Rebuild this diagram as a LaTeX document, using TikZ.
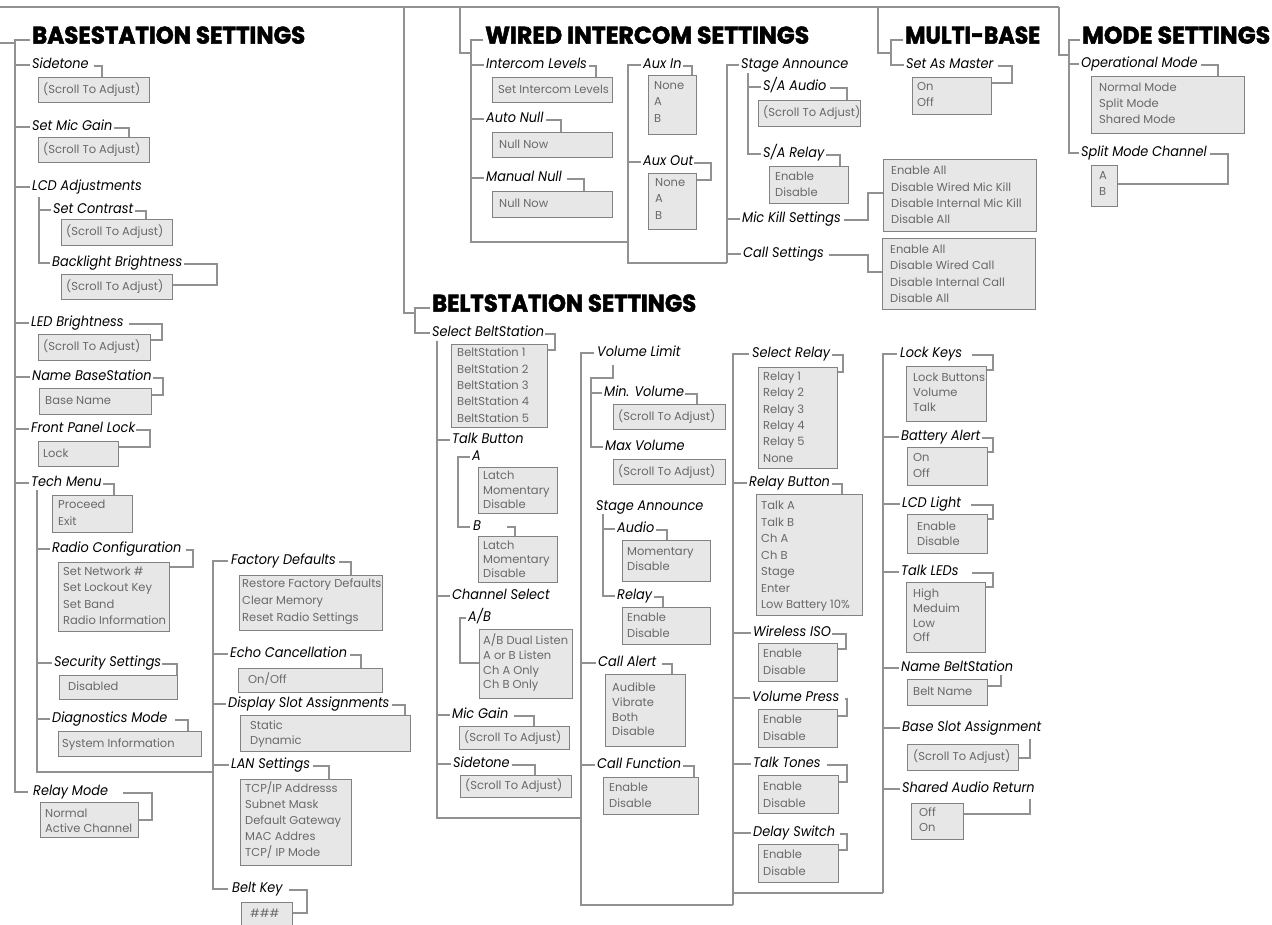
\documentclass[tikz,border=0pt]{standalone}
\usepackage{fontspec}
\usepackage{graphicx}
\setmainfont{Poppins}
\newfontfamily\titlefont{Poppins}[FakeBold=2.2]
\newfontfamily\labfont{Poppins}[FakeStretch=0.92]
\definecolor{lnc}{RGB}{145,145,145}
\definecolor{boxf}{RGB}{231,231,231}
\definecolor{boxd}{RGB}{130,130,130}
\definecolor{optc}{RGB}{105,105,105}
\newcommand\tw[2]{\resizebox{#1pt}{\height}{#2}}
\tikzset{
  ln/.style={draw=lnc, line width=1.2pt},
  ttl/.style={anchor=west, inner sep=0pt, text height=0.72em, text depth=0pt, font=\titlefont\bfseries\fontsize{24}{24}\selectfont},
  lab/.style={anchor=west, inner sep=0pt, text height=0.72em, text depth=0pt, font=\labfont\itshape\fontsize{14}{14}\selectfont},
  op/.style={anchor=west, inner sep=0pt, text height=0.72em, text depth=0pt, text=optc, font=\fontsize{11.5}{11.5}\selectfont},
  bx/.style={anchor=north west, draw=boxd, fill=boxf, line width=1.2pt, inner sep=0pt},
}
\newcommand\bx[5]{\node[bx, minimum width={#4-#2}, minimum height={#5-#3}] (#1) at (#2,#3) {};}
\newcommand\ol[5]{\foreach \itm [count=\i from 0] in {#5}{\node[op] (#1-\i) at (#2,{#3+\i*#4}) {\itm};}}
\newcommand\stub[2]{\draw[ln] (#1,0 |- #2.west) -- ([xshift=-2pt]#2.west);}
\begin{document}
\begin{tikzpicture}[x=1pt,y=-1pt]
\useasboundingbox (0,0) rectangle (1272,924);
\fill[white] (0,0) rectangle (1272,924);
% ---------- top tree ----------
\draw[ln] (0,7) -- (1059,7);
\draw[ln] (404,7) -- (404,313) -- (415,313);
\draw[ln] (460,7) -- (460,53) -- (471,53);
\draw[ln] (878,7) -- (878,53) -- (891,53);
\draw[ln] (1059,7) -- (1059,55) -- (1069,55);
\draw[ln] (0,43) -- (15,43);
% ---------- BASESTATION ----------
\node[ttl] (bs) at (32,40) {\tw{273}{BASESTATION SETTINGS}};
\node[lab] (bs1) at (32,65) {Sidetone};
\bx{bs1b}{38}{77}{149}{102}
\node[op] (bs1t) at (43,89.5) {(Scroll To Adjust)};
\draw[ln] (bs1.east) ++(5,1) -| (102,0 |- bs1b.north);
\node[lab] (bs2) at (32,127) {Set Mic Gain};
\bx{bs2b}{38}{137}{149}{162}
\node[op] (bs2t) at (43,149.5) {(Scroll To Adjust)};
\draw[ln] (bs2.east) ++(2,1) -| (129,0 |- bs2b.north);
\node[lab] (bs3) at (32,187) {LCD Adjustments};
\node[lab] (bs3a) at (53,210) {Set Contrast};
\bx{bs3ab}{61}{219}{172}{245}
\node[op] (bs3at) at (66,232) {(Scroll To Adjust)};
\draw[ln] (bs3a.east) ++(2,1) -| (146,0 |- bs3ab.north);
\node[lab] (bs3b) at (52,263) {Backlight Brightness};
\bx{bs3bb}{61}{274}{172}{299}
\node[op] (bs3bt) at (66,286.5) {(Scroll To Adjust)};
\draw[ln] (bs3b.east) ++(2,1) -| (217,285) -- (bs3bb.east |- 217,285);
\draw[ln] (39,197) |- ([xshift=-2pt]bs3b.west);
\stub{39}{bs3a}
\node[lab] (bs4) at (31,323) {LED Brightness};
\bx{bs4b}{38}{334}{150}{360}
\node[op] (bs4t) at (43,347) {(Scroll To Adjust)};
\draw[ln] (bs4.east) ++(5,1) -| (162,340) -- (bs4b.east |- 162,340);
\node[lab] (bs5) at (32,377) {Name BaseStation};
\bx{bs5b}{39}{388}{151}{414}
\node[op] (bs5t) at (45,401) {Base Name};
\draw[ln] (bs5.east) ++(1,1) -| (163,395) -- (bs5b.east |- 163,395);
\node[lab] (bs6) at (31,429) {Front Panel Lock};
\bx{bs6b}{38}{441}{118}{466}
\node[op] (bs6t) at (43,453.5) {Lock};
\draw[ln] (bs6.east) ++(1,1) -| (150,447) -- (bs6b.east |- 150,447);
\node[lab] (bs7) at (31,483) {Tech Menu};
\bx{bs7b}{52}{495}{132}{532}
\ol{bs7t}{58}{505}{16.5}{Proceed,Exit}
\draw[ln] (bs7.east) ++(1,1) -| (114,0 |- bs7b.north);
\node[lab] (bs7a) at (52,549) {Radio Configuration};
\bx{bs7ab}{58}{562}{169}{631}
\ol{bs7at}{63}{571.5}{16.5}{Set Network \#,Set Lockout Key,Set Band,Radio Information}
\draw[ln] (bs7a.east) ++(4,1) -| (193,567) -- (bs7ab.east |- 193,567);
\node[lab] (bs7c) at (54,663) {Security Settings};
\bx{bs7cb}{59}{675}{177}{699}
\node[op] (bs7ct) at (68,687) {Disabled};
\draw[ln] (bs7c.east) ++(1,1) -| (177,0 |- bs7cb.north);
\node[lab] (bs7d) at (52,719) {Diagnostics Mode};
\bx{bs7db}{58}{731}{201}{756}
\node[op] (bs7dt) at (62,743.5) {System Information};
\draw[ln] (bs7d.east) ++(7,1) -| (188,0 |- bs7db.north);
\draw[ln] (37,490) |- (213,772);
\stub{37}{bs7a}\stub{37}{bs7c}\stub{37}{bs7d}
\node[lab] (bs8) at (33,792) {Relay Mode};
\bx{bs8b}{40}{802}{138}{837}
\ol{bs8t}{45}{813.5}{15.5}{Normal,Active Channel}
\draw[ln] (bs8.east) ++(15,1) -| (152,820) -- (bs8b.east |- 152,820);
\draw[ln] ([xshift=-2pt]bs.west) -| (15,0 |- bs8.west) -- ([xshift=-5pt]bs8.west);
\stub{15}{bs1}\stub{15}{bs2}\stub{15}{bs3}\stub{15}{bs4}\stub{15}{bs5}\stub{15}{bs6}\stub{15}{bs7}
% factory column
\node[lab] (fd) at (231,561) {Factory Defaults};
\bx{fdb}{239}{575}{382}{630}
\ol{fdt}{242}{583.5}{17}{Restore Factory Defaults,Clear Memory,Reset Radio Settings}
\draw[ln] (fd.east) ++(3,1) -| (351,0 |- fdb.north);
\node[lab] (ec) at (230,654) {Echo Cancellation};
\bx{ecb}{238}{668}{382}{692}
\node[op] (ect) at (248,680) {On/Off};
\draw[ln] (ec.east) ++(3,1) -| (361,0 |- ecb.north);
\node[lab] (ds) at (228,704) {Display Slot Assignments};
\bx{dsb}{240}{715}{410}{751}
\ol{dst}{250}{725.5}{15.5}{Static,Dynamic}
\draw[ln] (ds.east) ++(2,1) -| (405,0 |- dsb.north);
\node[lab] (lan) at (231,765) {LAN Settings};
\bx{lanb}{240}{779}{351}{865}
\ol{lant}{245}{789}{16}{TCP/IP Addresss,Subnet Mask,Default Gateway,MAC Addres,TCP/ IP Mode}
\draw[ln] (lan.east) ++(3,1) -| (329,0 |- lanb.north);
\node[lab] (bk) at (232,889) {Belt Key};
\bx{bkb}{241}{902}{292}{935}
\node[op] (bkt) at (250,914) {\#\#\#};
\draw[ln] (bk.east) ++(6,1) -| (307,913) -- (bkb.east |- 307,913);
\draw[ln] ([xshift=-3pt]fd.west) -| (213,0 |- bk.west) -- ([xshift=-4pt]bk.west);
\stub{213}{ec}\stub{213}{ds}\stub{213}{lan}
% ---------- WIRED INTERCOM ----------
\node[ttl] (wi) at (485,40) {\tw{324}{WIRED INTERCOM SETTINGS}};
\draw[ln] ([xshift=-2pt]wi.west) -| (471,242) -- (628,242);
\node[lab] (il) at (486,65) {Intercom Levels};
\bx{ilb}{492}{77}{612}{102}
\node[op] (ilt) at (498,89.5) {Set Intercom Levels};
\draw[ln] (il.east) ++(2,1) -| (596,0 |- ilb.north);
\node[lab] (an) at (486,119) {Auto Null};
\bx{anb}{492}{132}{612}{157}
\node[op] (ant) at (499,144.5) {Null Now};
\draw[ln] (an.east) ++(2,1) -| (561,0 |- anb.north);
\node[lab] (mn) at (486,178) {Manual Null};
\bx{mnb}{492}{191}{612}{217}
\node[op] (mnt) at (499,204) {Null Now};
\draw[ln] (mn.east) ++(5,1) -| (584,0 |- mnb.north);
\stub{471}{il}\stub{471}{an}\stub{471}{mn}
\node[lab] (ai) at (643,65) {Aux In};
\bx{aib}{648}{75}{696}{134}
\ol{ait}{654}{86}{16.3}{None,A,B}
\draw[ln] (ai.east) ++(1,1) -| (692,0 |- aib.north);
\node[lab] (ao) at (643,162) {Aux Out};
\bx{aob}{648}{173}{696}{229}
\ol{aot}{655}{183}{16.3}{None,A,B}
\draw[ln] (ao.east) ++(1,1) -| (711,180) -- (aob.east |- 711,180);
\draw[ln] ([xshift=-2pt]ai.west) -| (628,263) -- (727,263);
\stub{628}{ao}
\node[lab] (sa) at (741,65) {Stage Announce};
\draw[ln] ([xshift=-2pt]sa.west) -| (727,263);
\node[lab] (saa) at (763,87) {S/A Audio};
\bx{saab}{758}{100}{860}{126}
\node[op] (saat) at (763,113) {(Scroll To Adjust)};
\draw[ln] (saa.east) ++(3,1) -| (847,0 |- saab.north);
\node[lab] (sar) at (763,154) {S/A Relay};
\bx{sarb}{769}{166}{848}{203}
\ol{sart}{775}{176.5}{16.5}{Enable,Disable}
\draw[ln] (sar.east) ++(2,1) -| (840,0 |- sarb.north);
\draw[ln] (748,73) |- ([xshift=-2pt]sar.west);
\stub{748}{saa}
\node[lab] (mk) at (742,219) {Mic Kill Settings};
\bx{mkb}{883}{159}{1036}{231}
\ol{mkt}{891}{171}{16.4}{Enable All,Disable Wired Mic Kill,Disable Internal Mic Kill,Disable All}
\draw[ln] (mk.east) ++(3,1) -| (868,193) -- (mkb.west |- 868,193);
\node[lab] (cs) at (743,254) {Call Settings};
\bx{csb}{882}{238}{1035}{309}
\ol{cst}{890}{250}{16.3}{Enable All,Disable Wired Call,Disable Internal Call,Disable All}
\draw[ln] (cs.east) ++(5,1) -| (868,272) -- (csb.west |- 868,272);
\stub{727}{mk}\stub{727}{cs}
% ---------- MULTI-BASE ----------
\node[ttl] (mb) at (905,40) {\tw{135}{MULTI-BASE}};
\node[lab] (sam) at (906,65) {Set As Master};
\draw[ln] ([xshift=-2pt]mb.west) -| (891,0 |- sam.west) -- ([xshift=-2pt]sam.west);
\bx{samb}{912}{77}{991}{114}
\ol{samt}{917}{87}{16}{On,Off}
\draw[ln] (sam.east) ++(4,1) -| (1012,83) -- (samb.east |- 1012,83);
% ---------- MODE SETTINGS ----------
\node[ttl] (mo) at (1082,40) {\tw{188}{MODE SETTINGS}};
\node[lab] (om) at (1081,64) {Operational Mode};
\bx{omb}{1091}{76}{1244}{133}
\ol{omt}{1099}{88}{16}{Normal Mode,Split Mode,Shared Mode}
\draw[ln] (om.east) ++(3,1) -| (1218,0 |- omb.north);
\node[lab] (smc) at (1081,153) {Split Mode Channel};
\bx{smcb}{1091}{165}{1117}{206}
\ol{smct}{1099}{176}{16}{A,B}
\draw[ln] (smc.east) ++(3,1) -| (1228,184) -- (smcb.east |- 1228,184);
\draw[ln] ([xshift=-2pt]mo.west) -| (1069,0 |- smc.west) -- ([xshift=-2pt]smc.west);
\stub{1069}{om}
% ---------- BELTSTATION ----------
\node[ttl] (bt) at (432,308) {\tw{264}{BELTSTATION SETTINGS}};
\node[lab] (sb) at (432,333) {Select BeltStation};
\draw[ln] ([xshift=-2pt]bt.west) -| (415,0 |- sb.west) -- ([xshift=-2pt]sb.west);
\bx{sbb}{451}{344}{547}{427}
\ol{sbt}{457}{353}{16.4}{BeltStation 1,BeltStation 2,BeltStation 3,BeltStation 4,BeltStation 5}
\draw[ln] (sb.east) ++(1,1) -| (555,350) -- (sbb.east |- 555,350);
\draw[ln] (437,341) |- (581,818);
% col 1
\node[lab] (tb) at (452,440) {Talk Button};
\node[lab] (ta) at (472,457) {A};
\bx{tab}{478}{467}{557}{513}
\ol{tat}{483}{476}{14.5}{Latch,Momentary,Disable}
\node[lab] (tB) at (473,527) {B};
\bx{tBb}{478}{536}{557}{582}
\ol{tBt}{483}{545.5}{14}{Latch,Momentary,Disable}
\draw[ln] (tB.east) ++(26,0) -| (515,0 |- tBb.north);
\draw[ln] ([xshift=-2pt]ta.west) -| (458,0 |- tB.west) -- ([xshift=-3pt]tB.west);
\node[lab] (chs) at (452,596) {Channel Select};
\node[lab] (ab) at (468,618) {A/B};
\bx{abb}{479}{629}{572}{698}
\ol{abt}{483}{641}{14.7}{A/B Dual Listen,A or B Listen,Ch A Only,Ch B Only}
\draw[ln] ([xshift=-2pt]ab.west) -| (460,663) -- (abb.west |- 460,663);
\node[lab] (mg) at (452,715) {Mic Gain};
\bx{mgb}{459}{726}{569}{749}
\node[op] (mgt) at (464,737.5) {(Scroll To Adjust)};
\draw[ln] (mg.east) ++(6,1) -| (534,0 |- mgb.north);
\node[lab] (st) at (453,764) {Sidetone};
\bx{stb}{460}{775}{571}{797}
\node[op] (stt) at (465,786) {(Scroll To Adjust)};
\draw[ln] (st.east) ++(2,1) -| (535,0 |- stb.north);
\stub{437}{tb}\stub{437}{chs}\stub{437}{mg}\stub{437}{st}
% col 2
\node[lab] (vl) at (597,353) {Volume Limit};
\draw[ln] ([xshift=-3pt]vl.west) -| (581,905) -- (733,905);
\node[lab] (minv) at (604,393) {Min. Volume};
\bx{minvb}{613}{404}{725}{429}
\node[op] (minvt) at (618,416.5) {(Scroll To Adjust)};
\draw[ln] (minv.east) ++(1,1) -| (697,0 |- minvb.north);
\node[lab] (maxv) at (605,447) {Max Volume};
\bx{maxvb}{613}{459}{725}{484}
\node[op] (maxvt) at (618,471.5) {(Scroll To Adjust)};
\draw[ln] (613,365) -- (613,378) -- (591,378) |- ([xshift=-2pt]maxv.west);
\stub{591}{minv}
\node[lab] (ssa) at (596,507) {Stage Announce};
\node[lab] (au) at (617,529) {Audio};
\bx{aub}{622}{540}{710}{581}
\ol{aut}{627}{552}{15}{Momentary,Disable}
\draw[ln] (au.east) ++(2,1) -| (667,0 |- aub.north);
\node[lab] (rl) at (617,596) {Relay};
\bx{rlb}{622}{607}{710}{644}
\ol{rlt}{627}{617.5}{16.5}{Enable,Disable}
\draw[ln] (rl.east) ++(2,1) -| (663,0 |- rlb.north);
\draw[ln] (603,514) |- ([xshift=-2pt]rl.west);
\stub{603}{au}
\node[lab] (ca) at (598,663) {Call Alert};
\bx{cab}{605}{674}{685}{746}
\ol{cat}{612}{688}{14.7}{Audible,Vibrate,Both,Disable}
\draw[ln] (ca.east) ++(5,1) -| (672,0 |- cab.north);
\node[lab] (cf) at (597,765) {Call Function};
\bx{cfb}{603}{777}{698}{814}
\ol{cft}{609}{788}{16}{Enable,Disable}
\draw[ln] (cf.east) ++(2,1) -| (694,0 |- cfb.north);
\stub{581}{ca}\stub{581}{cf}
% col 3
\node[lab] (sr) at (752,354) {Select Relay};
\draw[ln] ([xshift=-3pt]sr.west) -| (733,905);
\draw[ln] (733,893) -- (883,893);
\bx{srb}{758}{367}{837}{468}
\ol{srt}{763}{377}{16.3}{Relay 1,Relay 2,Relay 3,Relay 4,Relay 5,None}
\draw[ln] (sr.east) ++(2,1) -| (843,372) -- (srb.east |- 843,372);
\node[lab] (rb) at (749,483) {Relay Button};
\bx{rbb}{756}{494}{862}{615}
\ol{rbt}{761}{506}{16.5}{Talk A,Talk B,Ch A,Ch B,Stage,Enter,Low Battery 10\%}
\draw[ln] (rb.east) ++(2,1) -| (842,0 |- rbb.north);
\node[lab] (wis) at (753,633) {Wireless ISO};
\bx{wisb}{758}{643}{837}{681}
\ol{wist}{763}{654}{16.5}{Enable,Disable}
\draw[ln] (wis.east) ++(1,1) -| (846,649) -- (wisb.east |- 846,649);
\node[lab] (vp) at (752,698) {Volume Press};
\bx{vpb}{758}{709}{837}{747}
\ol{vpt}{763}{720}{16.5}{Enable,Disable}
\draw[ln] (vp.east) ++(5,1) -| (847,716) -- (vpb.east |- 847,716);
\node[lab] (tt) at (753,764) {Talk Tones};
\bx{ttb}{758}{775}{838}{813}
\ol{ttt}{763}{787}{16.5}{Enable,Disable}
\draw[ln] (tt.east) ++(6,1) -| (847,782) -- (ttb.east |- 847,782);
\node[lab] (dsw) at (753,833) {Delay Switch};
\bx{dswb}{758}{844}{838}{882}
\ol{dswt}{763}{855}{16.5}{Enable,Disable}
\draw[ln] (dsw.east) ++(5,1) -| (847,850) -- (dswb.east |- 847,850);
\stub{733}{rb}\stub{733}{wis}\stub{733}{vp}\stub{733}{tt}\stub{733}{dsw}
% col 4
\node[lab] (lk) at (900,354) {Lock Keys};
\draw[ln] ([xshift=-3pt]lk.west) -| (883,893);
\bx{lkb}{906}{366}{986}{421}
\ol{lkt}{913}{378}{15}{Lock Buttons,Volume,Talk}
\draw[ln] (lk.east) ++(10,1) -| (993,370) -- (lkb.east |- 993,370);
\node[lab] (ba) at (901,437) {Battery Alert};
\bx{bab}{907}{447}{987}{485}
\ol{bat}{913}{458}{16}{On,Off}
\draw[ln] (ba.east) ++(1,1) -| (993,452) -- (bab.east |- 993,452);
\node[lab] (lcd) at (902,504) {LCD Light};
\bx{lcdb}{907}{514}{987}{553}
\ol{lcdt}{917}{527}{15}{Enable,Disable}
\draw[ln] (lcd.east) ++(10,1) -| (993,519) -- (lcdb.east |- 993,519);
\node[lab] (tl) at (901,572) {Talk LEDs};
\bx{tlb}{906}{582}{985}{652}
\ol{tlt}{913}{594}{14.7}{High,Meduim,Low,Off}
\draw[ln] (tl.east) ++(13,1) -| (993,587) -- (tlb.east |- 993,587);
\node[lab] (nb) at (901,668) {Name BeltStation};
\bx{nbb}{907}{679}{987}{705}
\node[op] (nbt) at (913,692) {Belt Name};
\draw[ln] (1001,0 |- nb.south) ++(0,3) -- (1001,686) -- (nbb.east |- 0,686);
\node[lab] (bsa) at (902,728) {Base Slot Assignment};
\bx{bsab}{907}{744}{1018}{770}
\node[op] (bsat) at (913,757) {(Scroll To Adjust)};
\draw[ln] (1030,0 |- bsa.south) ++(0,7) -- (1030,758) -- (bsab.east |- 0,758);
\node[lab] (sar2) at (902,789) {Shared Audio Return};
\bx{sar2b}{911}{803}{963}{839}
\ol{sar2t}{919}{813}{15}{Off,On}
\draw[ln] (1030,0 |- sar2.south) ++(0,6) -- (1030,814) -- (sar2b.east |- 0,814);
\stub{883}{ba}\stub{883}{lcd}\stub{883}{tl}\stub{883}{nb}\stub{883}{bsa}\stub{883}{sar2}
\end{tikzpicture}
\end{document}
